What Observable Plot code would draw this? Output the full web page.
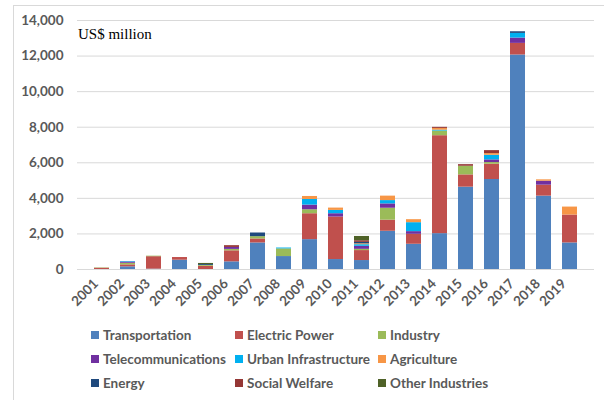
<!DOCTYPE html>
<html>
<head>
<meta charset="utf-8">
<script src="https://cdn.jsdelivr.net/npm/d3@7"></script>
<script src="https://cdn.jsdelivr.net/npm/@observablehq/plot@0.6"></script>
<style>
  html, body { margin: 0; padding: 0; background: #fff; }
  #wrap { position: relative; width: 604px; height: 400px; overflow: hidden; font-family: Lato, "Open Sans", sans-serif; }
  #frame { position: absolute; left: 13px; top: 5px; width: 620px; height: 420px; border-left: 1px solid #d9d9d9; border-top: 1px solid #d9d9d9; box-sizing: border-box; }
  #chart { position: absolute; left: 0; top: 0; }
  #unit { position: absolute; left: 78px; top: 26px; font-family: "Liberation Serif", "DejaVu Serif", serif; font-size: 15px; color: #000; }
  #legend { position: absolute; left: 0; top: 0; width: 604px; height: 400px; pointer-events: none; }
  .item { position: absolute; display: flex; align-items: center; font-size: 13.5px; font-weight: 700; color: #595959; white-space: nowrap; }
  .sw { width: 8px; height: 8px; margin-right: 4px; }
</style>
</head>
<body>
<div id="wrap">
  <div id="frame"></div>
  <div id="chart"></div>
  <div id="unit">US$ million</div>
  <div id="legend"></div>
</div>
<script>
const years = ["2001","2002","2003","2004","2005","2006","2007","2008","2009","2010","2011","2012","2013","2014","2015","2016","2017","2018","2019"];
const seriesNames = ["Transportation","Electric Power","Industry","Telecommunications","Urban Infrastructure","Agriculture","Energy","Social Welfare","Other Industries"];
const seriesColors = ["#4F81BD","#C0504D","#9BBB59","#7030A0","#00B0F0","#F79646","#1F497D","#953735","#4F6228"];

const transportation = [0,150,20,523,0,430,1493,728,1680,560,504,2150,1419,2016,4630,5060,12060,4126,1494];
const electricPower = [70,110,700,150,180,620,224,0,1456,2389,560,625,560,5507,690,860,653,616,1568];
const industry = [20,90,30,0,50,80,130,430,224,0,70,670,0,261,485,93,0,0,0];
const telecommunications = [0,70,0,0,0,110,0,0,261,187,170,243,150,0,0,150,300,224,0];
const urbanInfrastructure = [0,30,0,0,0,0,0,50,317,187,90,187,504,50,0,260,261,0,0];
const agriculture = [0,0,0,0,0,0,0,0,168,130,50,250,168,100,0,93,0,75,448];
const energy = [0,0,0,0,50,0,205,0,0,0,80,0,0,0,0,0,93,0,0];
const socialWelfare = [0,0,0,0,0,100,0,0,0,0,93,0,0,60,90,168,0,0,0];
const otherIndustries = [0,0,0,0,60,0,0,0,0,0,240,0,0,0,0,0,0,0,0];

const yTicks = [0,2000,4000,6000,8000,10000,12000,14000];

const seriesValues = [transportation, electricPower, industry, telecommunications, urbanInfrastructure, agriculture, energy, socialWelfare, otherIndustries];
const rows = [];
seriesNames.forEach((s, i) => {
  years.forEach((y, j) => rows.push({year: y, series: s, value: seriesValues[i][j]}));
});

const chart = Plot.plot({
  width: 604,
  height: 320,
  marginLeft: 77,
  marginRight: 10,
  marginTop: 20,
  marginBottom: 51,
  style: {fontFamily: "Lato, 'Open Sans', sans-serif", fontSize: "13.5px", fontWeight: 700, color: "#595959", background: "transparent"},
  x: {domain: years, padding: 0.42, label: null},
  y: {domain: [0, 14000], label: null},
  color: {domain: seriesNames, range: seriesColors},
  marks: [
    Plot.gridY(yTicks, {stroke: "#d9d9d9", strokeOpacity: 1, strokeWidth: 1}),
    Plot.barY(rows, {x: "year", y: "value", fill: "series", z: "series"}),
    Plot.axisY(yTicks, {tickSize: 0, tickPadding: 14, tickFormat: d3.format(","), label: null, fill: "#595959"}),
    Plot.axisX({tickSize: 0, tickPadding: 6, tickRotate: -45, dx: -6, dy: 6, label: null, fill: "#595959"})
  ]
});
document.getElementById("chart").appendChild(chart);

const legend = document.getElementById("legend");
const colX = [91, 235, 378];
const rowY = [335, 359, 383];
seriesNames.forEach((s, i) => {
  const el = document.createElement("div");
  el.className = "item";
  el.style.left = colX[i % 3] + "px";
  el.style.top = (rowY[Math.floor(i / 3)] - 9) + "px";
  el.style.height = "18px";
  el.innerHTML = `<span class="sw" style="background:${seriesColors[i]}"></span><span>${s}</span>`;
  legend.appendChild(el);
});
</script>
</body>
</html>
